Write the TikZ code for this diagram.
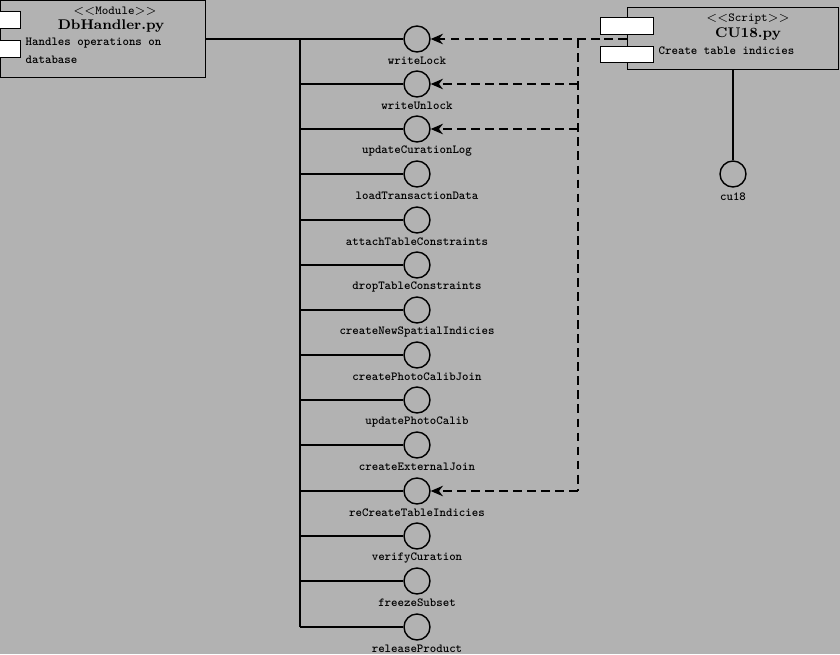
\documentclass[tikz,border=0pt]{standalone}
\usepackage{fontspec}
\usepackage{tikz}
\usetikzlibrary{positioning,shapes,arrows.meta}
\newfontfamily\ttbold{lmmonolt10-bold.otf}

\begin{document}
\begin{tikzpicture}[x=0.02cm,y=-0.02cm,thick,
  lbl/.style={font=\fontsize{7}{8}\ttbold,inner sep=0pt},
  iface/.style={circle,draw,minimum size=26*0.02cm,inner sep=0pt},
  tab/.style={draw,fill=white,thin,inner sep=0pt},
  dashline/.style={dash pattern=on 5pt off 3pt},
  dep/.style={dashline,-{Stealth[length=7pt,width=6pt]}}]
\fill [black!30] (0,0) rectangle (840,654);
\useasboundingbox (0,0) rectangle (840,654);
% module box
\draw [thin,fill=black!30] (0,0) rectangle (205,77);
\draw [tab] (-1,11) rectangle (20,28);
\draw [tab] (-1,40) rectangle (20,57);
\node (modst) at (115,11) {\fontsize{7}{8}\ttfamily$<<$Module$>>$};
\node (mod) at (111,26) {\fontsize{8}{9}\bfseries DbHandler.py};
\node [lbl,anchor=west,align=left] (moddesc) at (25,51) {Handles operations on\\[2pt]database};
\coordinate (modr) at (205,39);
% script box
\draw [thin,fill=black!30] (627,7) rectangle (838,69);
\draw [tab] (600,17) rectangle (653,34);
\draw [tab] (600,46) rectangle (653,62);
\node (scrst) at (748,19) {\fontsize{7}{8}\ttfamily$<<$Script$>>$};
\node (scr) at (748,34) {\fontsize{8}{9}\bfseries CU18.py};
\node [lbl,anchor=west] (scrdesc) at (658,51) {Create table indicies};
\coordinate (scrb) at (733,69);
\coordinate (scrl) at (627,39);
% interfaces
\foreach \y/\name [count=\i] in {39/writeLock,84/writeUnlock,129/updateCurationLog,
  174/loadTransactionData,220/attachTableConstraints,265/dropTableConstraints,
  310/createNewSpatialIndicies,355/createPhotoCalibJoin,400/updatePhotoCalib,
  445/createExternalJoin,491/reCreateTableIndicies,536/verifyCuration,
  581/freezeSubset,627/releaseProduct} {
  \node [iface] (if\i) at (417,\y) {};
  \node [lbl] at (417,\y+22) {\name};
  \coordinate (bus\i) at (300,\y);
  \draw (bus\i) -- (if\i);
}
\draw (modr) -- (bus1);
\draw (bus1) -- (bus14);
\node [iface] (cu) at (733,174) {};
\node [lbl] at (733,197) {cu18};
\draw (scrb) -- (cu);
% dependencies
\coordinate (d1) at (578,39);
\coordinate (d2) at (578,84);
\coordinate (d3) at (578,129);
\coordinate (d11) at (578,491);
\draw [dashline] (scrl) -- (600,39);
\draw [dashline] (d1) -- (d11);
\draw [dep] (600,39) -- (if1);
\draw [dep] (d2) -- (if2);
\draw [dep] (d3) -- (if3);
\draw [dep] (d11) -- (if11);
\end{tikzpicture}
\end{document}
